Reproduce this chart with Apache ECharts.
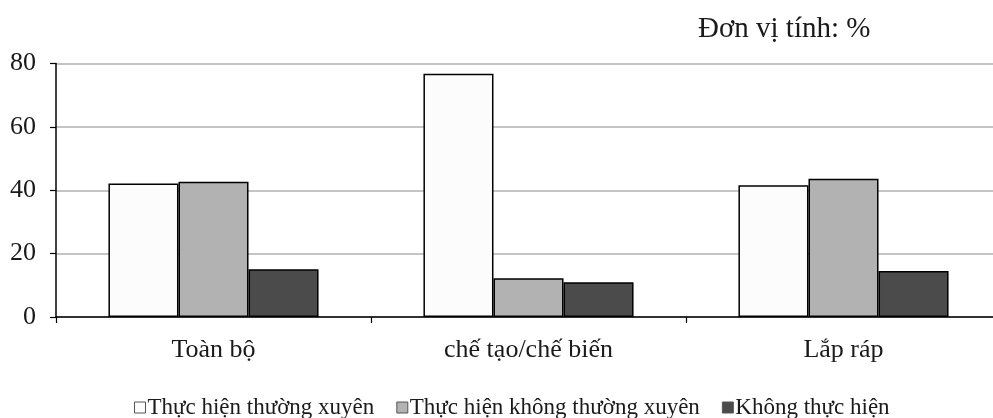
<!DOCTYPE html>
<html>
<head>
<meta charset="utf-8">
<script src="https://cdn.jsdelivr.net/npm/echarts@6/dist/echarts.min.js"></script>
<style>
html,body{margin:0;padding:0;background:#fff;}
#chart{width:993px;height:418px;}
</style>
</head>
<body>
<div id="chart"></div>
<script>
const categories = ['Toàn bộ', 'chế tạo/chế biến', 'Lắp ráp'];
const seriesNames = ['Thực hiện thường xuyên', 'Thực hiện không thường xuyên', 'Không thực hiện'];
const regular = [42.1, 76.8, 41.6];
const irregular = [42.7, 12.2, 43.6];
const none = [15.1, 11.0, 14.5];
const yTicks = [0, 20, 40, 60, 80];
const unitLabel = 'Đơn vị tính: %';

const FONT = '"Liberation Serif", "Times New Roman", serif';
const colors = ['#fcfcfc', '#b2b2b2', '#4b4b4b'];
const values = [regular, irregular, none];

const chart = echarts.init(document.getElementById('chart'), null, {renderer: 'canvas'});
chart.setOption({
  animation: false,
  backgroundColor: '#ffffff',
  textStyle: {fontFamily: FONT, color: '#000'},
  title: {
    text: unitLabel,
    left: 693, top: 10,
    textStyle: {fontFamily: FONT, fontSize: 29, fontWeight: 'normal', color: '#1a1a1a'}
  },
  legend: {
    data: seriesNames,
    left: 129, top: 391,
    icon: 'rect',
    itemWidth: 11, itemHeight: 11,
    itemGap: 22,
    textStyle: {fontFamily: FONT, fontSize: 23, color: '#1a1a1a', padding: [0, 0, 0, -3]},
    itemStyle: {borderColor: '#555', borderWidth: 1}
  },
  grid: {left: 56, top: 63.5, width: 945, height: 253.5, containLabel: false, outerBoundsMode: 'none'},
  xAxis: {
    type: 'category',
    data: categories,
    boundaryGap: true,
    axisLine: {lineStyle: {color: '#000', width: 1.5}},
    axisTick: {show: true, length: 6, inside: false, lineStyle: {color: '#000', width: 1.2}},
    axisLabel: {fontFamily: FONT, fontSize: 26, color: '#1a1a1a', margin: 20},
    splitLine: {show: false}
  },
  yAxis: {
    type: 'value',
    min: yTicks[0], max: yTicks[yTicks.length - 1], interval: 20,
    axisLine: {show: true, lineStyle: {color: '#000', width: 1.5}},
    axisTick: {show: true, length: 6, lineStyle: {color: '#000', width: 1.2}},
    axisLabel: {fontFamily: FONT, fontSize: 26, color: '#1a1a1a', margin: 20},
    splitLine: {show: true, lineStyle: {color: '#c4c4c4', width: 2}}
  },
  series: seriesNames.map((name, i) => ({
    name: name,
    type: 'bar',
    data: values[i],
    barGap: '0%',
    barCategoryGap: '33.3%',
    itemStyle: {color: colors[i], borderColor: '#000', borderWidth: 1.5},
    emphasis: {disabled: true}
  }))
});
</script>
</body>
</html>
